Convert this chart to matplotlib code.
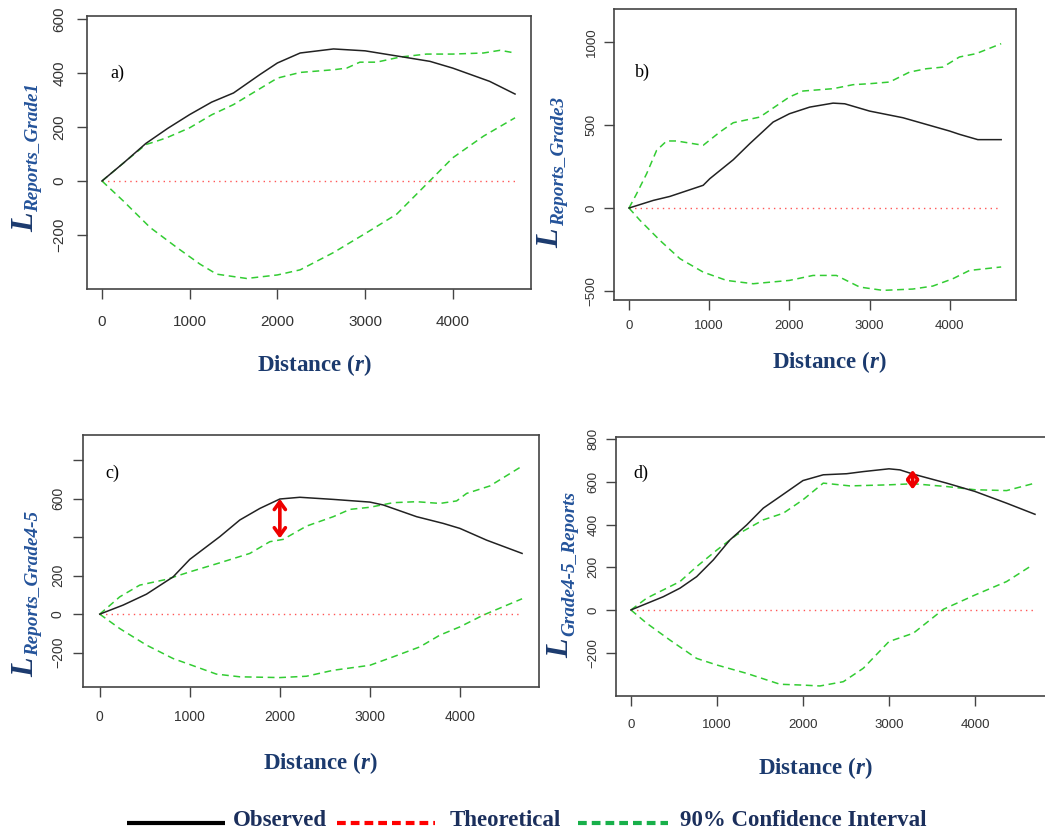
import matplotlib
matplotlib.use("Agg")
import matplotlib.pyplot as plt
from matplotlib.lines import Line2D

W, H = 1045, 835

# ---------------- data ----------------
# Panel a) L Reports_Grade1
obs_a_r = [0, 250, 500, 750, 1000, 1250, 1500, 1800, 2000, 2260, 2640, 3000, 3400, 3740, 4000, 4420, 4710]
obs_a_v = [0, 68, 139, 195, 246, 292, 326, 394, 437, 474, 489, 482, 461, 443, 418, 369, 322]
up_a_r = [0, 250, 500, 600, 737, 1000, 1250, 1500, 2000, 2260, 2640, 2790, 2940, 3130, 3400, 3700, 4000, 4350, 4540, 4710]
up_a_v = [0, 68, 135, 145, 160, 197, 245, 283, 381, 402, 412, 418, 440, 440, 459, 470, 470, 474, 484, 474]
lo_a_r = [0, 243, 548, 852, 1118, 1308, 1650, 2000, 2260, 2640, 3020, 3360, 3700, 4000, 4350, 4710]
lo_a_v = [0, -74, -172, -246, -308, -345, -361, -348, -329, -265, -191, -123, -12, 86, 166, 234]

# Panel b) L Reports_Grade3
obs_b_r = [0, 303, 510, 925, 1008, 1300, 1506, 1797, 2000, 2253, 2544, 2690, 3000, 3415, 3996, 4120, 4349, 4640]
obs_b_v = [0, 46, 70, 137, 177, 291, 388, 518, 568, 608, 632, 628, 584, 544, 464, 444, 412, 412]
up_b_r = [0, 95, 220, 344, 469, 593, 925, 1133, 1300, 1631, 2000, 2170, 2544, 2793, 3000, 3249, 3498, 3705, 3913, 4120, 4328, 4640]
up_b_v = [0, 86, 207, 347, 404, 404, 378, 458, 514, 548, 669, 705, 719, 743, 749, 759, 819, 839, 849, 910, 930, 990]
lo_b_r = [0, 137, 386, 635, 925, 1216, 1548, 2000, 2295, 2585, 2876, 3166, 3539, 3788, 4037, 4245, 4640]
lo_b_v = [0, -74, -195, -305, -386, -436, -456, -436, -406, -406, -476, -496, -488, -470, -426, -376, -355]

# Panel c) L Reports_Grade4-5
obs_c_r = [0, 259, 519, 815, 1000, 1333, 1556, 1778, 2000, 2222, 2593, 3000, 3148, 3519, 3815, 4000, 4296, 4690]
obs_c_v = [0, 47, 104, 194, 285, 403, 490, 550, 599, 608, 597, 583, 568, 507, 472, 446, 385, 316]
up_c_r = [0, 222, 444, 741, 1000, 1333, 1667, 1889, 2037, 2296, 2593, 2778, 3000, 3259, 3519, 3778, 3963, 4074, 4333, 4690]
up_c_v = [0, 90, 151, 181, 220, 267, 316, 377, 389, 458, 507, 545, 556, 580, 585, 576, 589, 628, 667, 770]
lo_c_r = [0, 222, 519, 815, 1000, 1296, 1556, 2000, 2296, 2593, 3000, 3259, 3556, 3778, 4000, 4259, 4690]
lo_c_v = [0, -75, -161, -231, -262, -312, -326, -330, -323, -292, -266, -222, -170, -109, -66, -5, 80]

# Panel d) L Grade4-5_Reports
obs_d_r = [0, 376, 570, 764, 957, 1151, 1345, 1539, 1733, 2000, 2236, 2508, 2702, 3000, 3128, 3283, 3670, 4000, 4368, 4698]
obs_d_v = [0, 62, 102, 156, 234, 328, 398, 477, 531, 606, 633, 638, 648, 661, 656, 636, 594, 555, 500, 448]
up_d_r = [0, 182, 570, 764, 1000, 1229, 1539, 1771, 2000, 2236, 2546, 3000, 3283, 3670, 4000, 4368, 4698]
up_d_v = [0, 55, 133, 203, 281, 352, 422, 453, 516, 594, 581, 586, 591, 578, 563, 559, 594]
lo_d_r = [0, 182, 453, 764, 1000, 1345, 1733, 2000, 2198, 2469, 2702, 3000, 3283, 3477, 3632, 4000, 4368, 4659]
lo_d_v = [0, -62, -141, -227, -258, -297, -348, -352, -356, -336, -273, -148, -109, -47, 3, 70, 133, 208]

theo_end = {"a": 4710, "b": 4640, "c": 4690, "d": 4698}

# red highlight arrows (r, lower, upper)
arrow_c = (2000, 394, 600)
arrow_d = (3275, 565, 655)

panel_letters = ["a)", "b)", "c)", "d)"]
sub_labels = ["Reports_Grade1", "Reports_Grade3", "Reports_Grade4-5", "Grade4-5_Reports"]
x_ticks = [0, 1000, 2000, 3000, 4000]
y_ticks = {
    "a": ([-200, 0, 200, 400, 600], ["\u2212200", "0", "200", "400", "600"]),
    "b": ([-500, 0, 500, 1000], ["\u2212500", "0", "500", "1000"]),
    "c": ([-200, 0, 200, 400, 600, 800], ["\u2212200", "0", "200", "", "600", ""]),
    "d": ([-200, 0, 200, 400, 600, 800], ["\u2212200", "0", "200", "400", "600", "800"]),
}
legend_labels = ["Observed", "Theoretical", "90% Confidence Interval"]

# ---------------- layout (pixels) ----------------
def rect(l, t, r, b):
    return [l / W, 1 - b / H, (r - l) / W, (b - t) / H]

cfg = {
    "a": dict(box=(87, 16, 531, 289), xlim=(-171, 4892), ylim=(-400, 611), fs=11, xpad=12, ypad=7.6,
              L=(33, 232), S=(38, 212), letter=(110, 73), xl=(314, 365)),
    "b": dict(box=(614, 9, 1016, 300), xlim=(-187, 4825), ylim=(-554, 1199), fs=9.5, xpad=7.5, ypad=4.9,
              L=(558, 248), S=(564, 226), letter=(635, 72), xl=(829, 362)),
    "c": dict(box=(83, 435, 539, 687), xlim=(-186, 4878), ylim=(-379, 932), fs=10, xpad=9.5, ypad=6,
              L=(33, 677), S=(38, 656), letter=(105, 473), xl=(320, 763)),
    "d": dict(box=(616, 437, 1051, 696), xlim=(-174, 4884), ylim=(-403, 810), fs=9.5, xpad=9.6, ypad=4.9,
              L=(568, 658), S=(574, 636), letter=(633, 473), xl=(815, 768)),
}
data = {
    "a": (obs_a_r, obs_a_v, up_a_r, up_a_v, lo_a_r, lo_a_v),
    "b": (obs_b_r, obs_b_v, up_b_r, up_b_v, lo_b_r, lo_b_v),
    "c": (obs_c_r, obs_c_v, up_c_r, up_c_v, lo_c_r, lo_c_v),
    "d": (obs_d_r, obs_d_v, up_d_r, up_d_v, lo_d_r, lo_d_v),
}

SERIF = "Liberation Serif"
SANS = "Liberation Sans"
NAVY = "#1B3A6E"
BLUE = "#24539A"
GREEN = "#33CC33"
SPINE = "#444444"

plt.rcParams["mathtext.fontset"] = "custom"
plt.rcParams["mathtext.rm"] = "Liberation Serif:bold"
plt.rcParams["mathtext.it"] = "Liberation Serif:italic:bold"

fig = plt.figure(figsize=(W / 100, H / 100), dpi=100)
fig.patch.set_facecolor("white")

for i, key in enumerate(["a", "b", "c", "d"]):
    c = cfg[key]
    ax = fig.add_axes(rect(*c["box"]))
    orr, ov, ur, uv, lr, lv = data[key]
    ax.plot([0, theo_end[key]], [0, 0], color="#FF5555", lw=1.0, ls=(0, (1, 3)))
    ax.plot(ur, uv, color=GREEN, lw=1.1, ls=(0, (4.5, 3)))
    ax.plot(lr, lv, color=GREEN, lw=1.1, ls=(0, (4.5, 3)))
    ax.plot(orr, ov, color="#222222", lw=1.1)
    ax.set_xlim(*c["xlim"])
    ax.set_ylim(*c["ylim"])
    ax.set_xticks(x_ticks)
    ax.set_xticklabels([str(t) for t in x_ticks])
    yt, yl = y_ticks[key]
    ax.set_yticks(yt)
    ax.set_yticklabels(yl)
    for s in ax.spines.values():
        s.set_color(SPINE)
        s.set_linewidth(1.2)
    if key == "d":
        ax.spines["right"].set_visible(False)
    ax.tick_params(axis="both", direction="out", length=7, width=1.0, color=SPINE,
                   labelsize=c["fs"], labelcolor="#333333")
    ax.tick_params(axis="x", pad=c["xpad"])
    ax.tick_params(axis="y", pad=c["ypad"], labelrotation=90)
    for lab in ax.get_xticklabels() + ax.get_yticklabels():
        lab.set_fontfamily(SANS)
    for lab in ax.get_yticklabels():
        lab.set_va("center")

    if key == "c":
        r, lo, hi = arrow_c
        ax.annotate("", xy=(r, hi), xytext=(r, lo),
                    arrowprops=dict(arrowstyle="<->,head_length=0.55,head_width=0.4",
                                    color="#EE0000", lw=2.6, shrinkA=0, shrinkB=0))
    if key == "d":
        r, lo, hi = arrow_d
        ax.annotate("", xy=(r, hi), xytext=(r, lo),
                    arrowprops=dict(arrowstyle="<->,head_length=0.45,head_width=0.35",
                                    color="#EE0000", lw=2.6, shrinkA=0, shrinkB=0))

    # panel letter
    lx, ly = c["letter"]
    fig.text(lx / W, 1 - ly / H, panel_letters[i], family=SERIF, fontsize=13,
             color="black", ha="left", va="center")
    # y label: big L with subscript
    Lx, Ly = c["L"]
    fig.text(Lx / W, 1 - Ly / H, "L", family=SERIF, fontsize=23, weight="bold",
             style="italic", color=NAVY, rotation=90, rotation_mode="anchor",
             ha="left", va="baseline")
    Sx, Sy = c["S"]
    fig.text(Sx / W, 1 - Sy / H, sub_labels[i], family=SERIF, fontsize=13.8, weight="bold",
             style="italic", color=BLUE, rotation=90, rotation_mode="anchor",
             ha="left", va="baseline")
    # x label
    xx, xy = c["xl"]
    fig.text(xx / W, 1 - xy / H, "Distance ($r$)", family=SERIF, fontsize=16.5,
             weight="bold", color=NAVY, ha="center", va="center")

# ---------------- bottom legend ----------------
ly = 1 - 823 / H
fig.add_artist(Line2D([127 / W, 225 / W], [ly, ly], color="black", lw=3.0,
                      solid_capstyle="butt"))
fig.add_artist(Line2D([337 / W, 435 / W], [ly, ly], color="#FF0000", lw=3.0,
                      ls=(0, (2.1, 1.2)), dash_capstyle="butt"))
fig.add_artist(Line2D([578 / W, 668 / W], [ly, ly], color="#18B04A", lw=3.0,
                      ls=(0, (2.1, 1.2)), dash_capstyle="butt"))
for x0, txt in zip([233, 450, 680], legend_labels):
    fig.text(x0 / W, 1 - 821 / H, txt, family=SERIF, fontsize=16.5, weight="bold",
             color="#1B2F5C", ha="left", va="center")

fig.savefig("out.png", dpi=100, facecolor="white")
